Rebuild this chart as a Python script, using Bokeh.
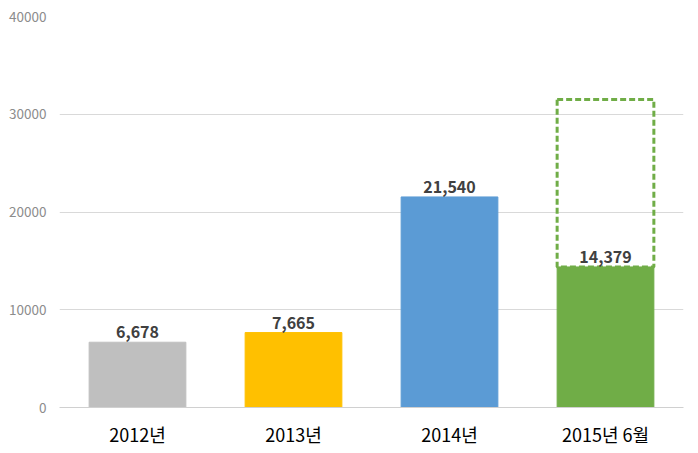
from bokeh.plotting import figure
from bokeh.models import ColumnDataSource, FixedTicker, Range1d, FactorRange, LabelSet
from bokeh.embed import file_html
from bokeh.resources import INLINE
from bokeh.core.properties import value

categories = ["2012년", "2013년", "2014년", "2015년 6월"]
values = [6678, 7665, 21540, 14379]
labels = ["6,678", "7,665", "21,540", "14,379"]
colors = ["#BFBFBF", "#FFC000", "#5B9BD5", "#70AD47"]
projected_category = ["2015년 6월"]
projected_value = [31500]
y_ticks = [0, 10000, 20000, 30000, 40000]

FONT = "Noto Sans CJK KR"

p = figure(width=698, height=453, output_backend="svg", toolbar_location=None,
           x_range=FactorRange(factors=categories, range_padding=0),
           y_range=Range1d(0, 40000),
           min_border_left=59, min_border_right=15, min_border_top=16, min_border_bottom=46)
p.outline_line_color = None

src = ColumnDataSource(dict(cat=categories, val=values, lab=labels, col=colors))
p.vbar(x="cat", top="val", width=0.62, color="col", source=src)

proj = ColumnDataSource(dict(cat=projected_category, top=projected_value, bottom=[values[-1]]))
p.vbar(x="cat", top="top", bottom="bottom", width=0.62, fill_color=None,
       line_color="#70AD47", line_width=3, line_dash="6 3", source=proj)

p.add_layout(LabelSet(x="cat", y="val", text="lab", source=src, text_align="center",
                      text_baseline="bottom", y_offset=4, text_font=value(FONT),
                      text_font_size="16px", text_font_style="bold", text_color="#404040"))

p.yaxis.ticker = FixedTicker(ticks=y_ticks)
p.yaxis.axis_line_color = None
p.yaxis.major_tick_line_color = None
p.yaxis.minor_tick_line_color = None
p.yaxis.major_label_text_font = FONT
p.yaxis.major_label_text_font_size = "13.5px"
p.yaxis.major_label_text_color = "#8c8c8c"
p.yaxis.major_label_standoff = 7

p.xaxis.axis_line_color = "#d0d0d0"
p.xaxis.major_tick_line_color = None
p.xaxis.minor_tick_line_color = None
p.xaxis.major_label_text_font = FONT
p.xaxis.major_label_text_font_size = "18px"
p.xaxis.major_label_text_color = "#000000"
p.xaxis.major_label_standoff = 7

p.xgrid.grid_line_color = None
p.ygrid.grid_line_color = "#d9d9d9"
p.ygrid.ticker = FixedTicker(ticks=y_ticks)

open("out.html", "w").write(file_html(p, INLINE))
